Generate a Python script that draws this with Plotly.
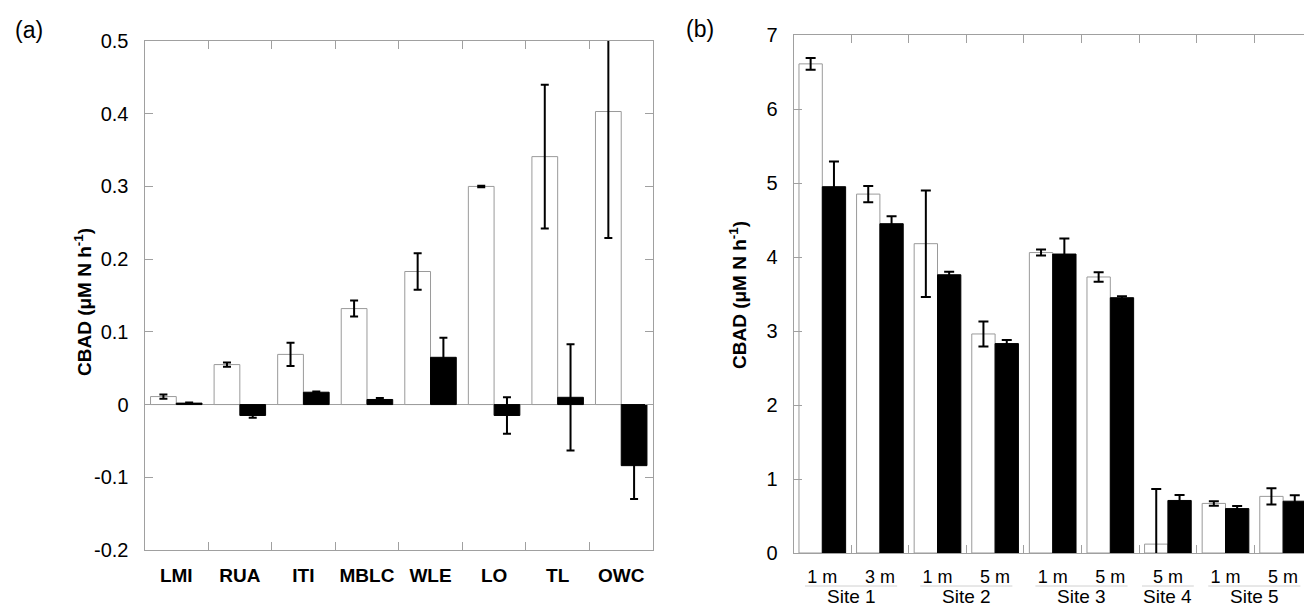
import plotly.graph_objects as go

# ---------------- data ----------------
categories_a = ["LMI", "RUA", "ITI", "MBLC", "WLE", "LO", "TL", "OWC"]
white_a = [0.011, 0.055, 0.069, 0.132, 0.183, 0.300, 0.341, 0.403]
white_a_err = [0.003, 0.003, 0.016, 0.011, 0.025, 0.001, 0.099, 0.174]
black_a = [0.002, -0.015, 0.017, 0.007, 0.065, -0.015, 0.010, -0.084]
black_a_err = [0.001, 0.003, 0.001, 0.002, 0.027, 0.025, 0.073, 0.046]
yticks_a = [-0.2, -0.1, 0, 0.1, 0.2, 0.3, 0.4, 0.5]
yticktext_a = ["-0.2", "-0.1", "0", "0.1", "0.2", "0.3", "0.4", "0.5"]

sites_b = ["Site 1", "Site 1", "Site 2", "Site 2", "Site 3", "Site 3", "Site 4", "Site 5", "Site 5"]
depths_b = ["1 m", "3 m", "1 m", "5 m", "1 m", "5 m", "5 m", "1 m", "5 m"]
white_b = [6.61, 4.85, 4.18, 2.96, 4.06, 3.73, 0.12, 0.67, 0.765]
white_b_err = [0.08, 0.11, 0.72, 0.17, 0.04, 0.065, 0.745, 0.03, 0.11]
black_b = [4.95, 4.45, 3.76, 2.83, 4.04, 3.45, 0.71, 0.60, 0.70]
black_b_err = [0.34, 0.10, 0.04, 0.05, 0.21, 0.02, 0.075, 0.035, 0.08]

# ---------------- style ----------------
FONT = "Liberation Sans, Arial, sans-serif"
AXC = "#a0a0a0"
W, H = 1304, 610

fig = go.Figure()

def err(vals, w):
    return dict(type="data", array=vals, visible=True, color="black", thickness=2, width=w)

fig.add_trace(go.Bar(x=categories_a, y=white_a, error_y=err(white_a_err, 4),
                     marker=dict(color="white", line=dict(color="#9a9a9a", width=1)),
                     xaxis="x", yaxis="y", showlegend=False))
fig.add_trace(go.Bar(x=categories_a, y=black_a, error_y=err(black_a_err, 4),
                     marker=dict(color="black", line=dict(color="black", width=1)),
                     xaxis="x", yaxis="y", showlegend=False))

xb = list(range(len(depths_b)))
fig.add_trace(go.Bar(x=xb, y=white_b, error_y=err(white_b_err, 5),
                     marker=dict(color="white", line=dict(color="#9a9a9a", width=1)),
                     xaxis="x2", yaxis="y2", showlegend=False))
fig.add_trace(go.Bar(x=xb, y=black_b, error_y=err(black_b_err, 5),
                     marker=dict(color="black", line=dict(color="black", width=1)),
                     xaxis="x2", yaxis="y2", showlegend=False))

# pixel helpers for domains
def px_x(p):
    return p / W

def px_y(p):
    return (H - p) / H

common_axis = dict(showline=True, linecolor=AXC, linewidth=1, showgrid=False,
                   ticks="inside", ticklen=8, tickcolor=AXC, zeroline=False,
                   automargin=False)

# right edge of panel b is cut by the picture: last category boundary lies beyond
cat_w_b = 57.6
left_b = 793.5
xmax_b = -0.5 + (W - left_b) / cat_w_b

fig.update_layout(
    width=W, height=H,
    margin=dict(l=0, r=0, t=0, b=0, autoexpand=False),
    paper_bgcolor="white", plot_bgcolor="white",
    barmode="group", bargap=0.19, bargroupgap=0,
    font=dict(family=FONT, color="black"),
    xaxis=dict(domain=[px_x(144.5), px_x(653)], anchor="y", type="category",
               tickson="boundaries", mirror="allticks", tickangle=0,
               tickfont=dict(size=19, family=FONT), ticklabelstandoff=8,
               tickmode="array", tickvals=categories_a,
               ticktext=[f"<b>{c}</b>" for c in categories_a],
               **common_axis),
    yaxis=dict(domain=[px_y(550), px_y(41)], anchor="x", range=[-0.2, 0.5],
               tickmode="array", tickvals=yticks_a, ticktext=yticktext_a,
               mirror="allticks", tickfont=dict(size=20), ticklabelstandoff=11,
               **{**common_axis, "zeroline": True},
               zerolinecolor=AXC, zerolinewidth=1),
    xaxis2=dict(domain=[px_x(left_b), 1.0], anchor="y2", range=[-0.5, xmax_b],
                tickmode="array", tickvals=xb, ticktext=depths_b, tickangle=0,
                tickfont=dict(size=18), ticklabelstandoff=7, automargin=False,
                showline=True, linecolor=AXC, linewidth=1, showgrid=False, zeroline=False,
                ticks="", mirror="allticks",
                minor=dict(ticks="inside", ticklen=8, tickcolor=AXC, tick0=0.5, dtick=1,
                           showgrid=False)),
    yaxis2=dict(domain=[px_y(553), px_y(35)], anchor="x2", range=[0, 7], dtick=1,
                tickfont=dict(size=20), ticklabelstandoff=11, **common_axis),
    yaxis3=dict(overlaying="y2", anchor="x2", side="right", range=[0, 7], dtick=1,
                showticklabels=False, showline=False, showgrid=False, zeroline=False,
                ticks="inside", ticklen=4, tickcolor=AXC, automargin=False),
)

annotations = [
    dict(text="(a)", x=px_x(29), y=px_y(30), xref="paper", yref="paper",
         showarrow=False, font=dict(size=23), xanchor="center", yanchor="middle"),
    dict(text="(b)", x=px_x(700), y=px_y(29), xref="paper", yref="paper",
         showarrow=False, font=dict(size=23), xanchor="center", yanchor="middle"),
    dict(text="<b>CBAD (μM N h<sup>-1</sup>)</b>", x=px_x(83), y=px_y(302),
         xref="paper", yref="paper", showarrow=False, textangle=-90,
         font=dict(size=19), xanchor="center", yanchor="middle"),
    dict(text="<b>CBAD (μM N h<sup>-1</sup>)</b>", x=px_x(738), y=px_y(295),
         xref="paper", yref="paper", showarrow=False, textangle=-90,
         font=dict(size=19), xanchor="center", yanchor="middle"),
]

# site group labels and underlines
shapes = []
groups = []
for i, s in enumerate(sites_b):
    if groups and groups[-1][0] == s:
        groups[-1][2] = i
    else:
        groups.append([s, i, i])
for name, i0, i1 in groups:
    n = i1 - i0 + 1
    inset = 0.2 if n > 1 else 0.05
    annotations.append(dict(text=name, x=(i0 + i1) / 2, y=px_y(609), xref="x2", yref="paper",
                            showarrow=False, font=dict(size=19), xanchor="center",
                            yanchor="bottom"))
    shapes.append(dict(type="line", xref="x2", yref="paper",
                       x0=i0 - 0.5 + inset, x1=i1 + 0.5 - inset,
                       y0=px_y(586), y1=px_y(586),
                       line=dict(color="#d0d0d0", width=1)))

fig.update_layout(annotations=annotations, shapes=shapes)

fig.write_html("out.html")
